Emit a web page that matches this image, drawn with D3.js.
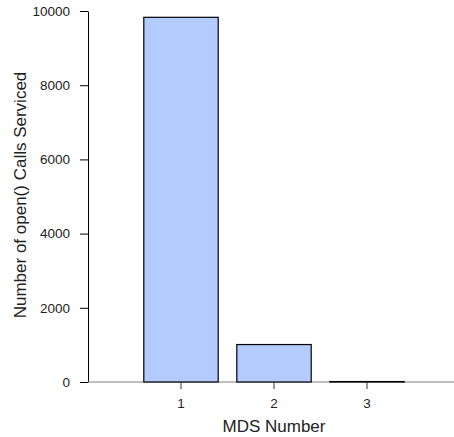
<!DOCTYPE html>
<html>
<head>
<meta charset="utf-8">
<script src="https://cdn.jsdelivr.net/npm/d3@7"></script>
<style>
  body { margin: 0; background: #fff; }
  text { font-family: "Liberation Sans", Arial, sans-serif; fill: #222; }
</style>
</head>
<body>
<div id="chart"></div>
<script>
const mdsNumbers = ["1", "2", "3"];
const callsServiced = [9830, 1010, 12];
const yTicks = [0, 2000, 4000, 6000, 8000, 10000];

const svg = d3.select("#chart").append("svg")
    .attr("width", 454)
    .attr("height", 437);

const x = d3.scaleBand()
    .domain(mdsNumbers)
    .range([134.5, 413.5])
    .paddingInner(0.2)
    .paddingOuter(0.1);

const y = d3.scaleLinear()
    .domain([0, 10000])
    .range([382, 11]);

// y axis
const yAxis = svg.append("g")
    .attr("transform", "translate(88,0)")
    .call(d3.axisLeft(y).tickValues(yTicks).tickFormat(d3.format("d"))
        .tickSize(8).tickPadding(10).tickSizeOuter(0));
yAxis.select(".domain").attr("stroke", "#000");
yAxis.selectAll("text").style("font-size", "13.5px").attr("fill", "#222");

// baseline
svg.append("line")
    .attr("x1", 88).attr("x2", 454)
    .attr("y1", y(0)).attr("y2", y(0))
    .attr("stroke", "#808080")
    .attr("stroke-width", 1.2);

// bars
svg.selectAll("rect.bar")
    .data(mdsNumbers)
    .enter().append("rect")
    .attr("class", "bar")
    .attr("x", d => x(d))
    .attr("y", (d, i) => y(callsServiced[i]))
    .attr("width", x.bandwidth())
    .attr("height", (d, i) => y(0) - y(callsServiced[i]))
    .attr("fill", "#b3cbfe")
    .attr("stroke", "#000")
    .attr("stroke-width", 1.2);

// x axis ticks
const xAxis = svg.append("g")
    .attr("transform", `translate(0,${y(0)})`)
    .call(d3.axisBottom(x).tickSize(7).tickPadding(9));
xAxis.select(".domain").remove();
xAxis.selectAll("line").attr("stroke", "#333");
xAxis.selectAll("text").style("font-size", "13.5px").attr("fill", "#222");

// axis titles
svg.append("text")
    .attr("x", 274)
    .attr("y", 432)
    .attr("text-anchor", "middle")
    .style("font-size", "17px")
    .text("MDS Number");

svg.append("text")
    .attr("transform", "translate(26,195) rotate(-90)")
    .attr("text-anchor", "middle")
    .style("font-size", "17px")
    .text("Number of open() Calls Serviced");
</script>
</body>
</html>
